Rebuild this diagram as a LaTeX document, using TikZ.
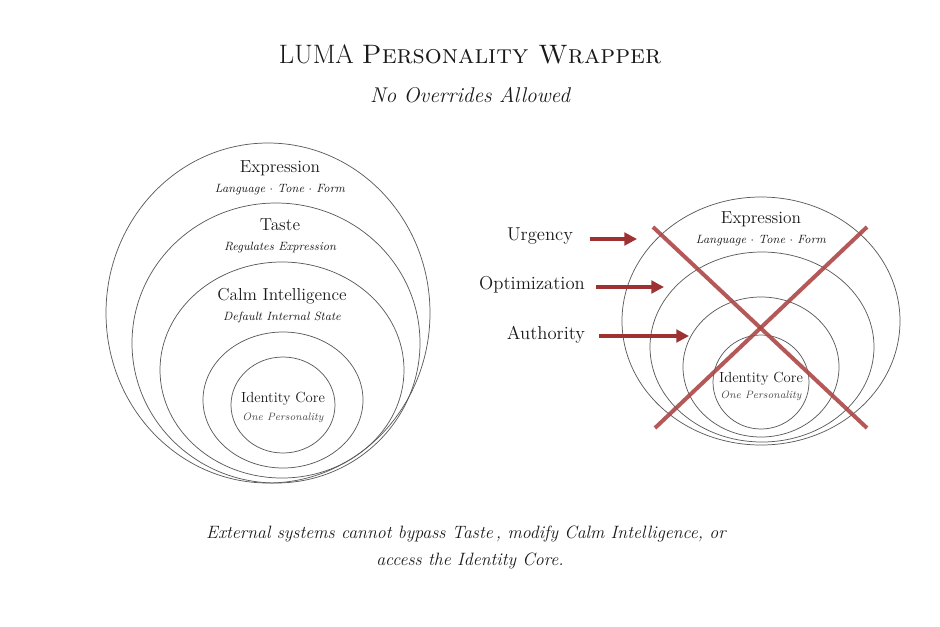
\documentclass[tikz,border=0pt]{standalone}
\usepackage{fontspec}
\usetikzlibrary{arrows.meta,positioning}
\definecolor{pushred}{RGB}{158,50,50}
\definecolor{crossred}{RGB}{172,70,70}
\definecolor{ringgray}{RGB}{90,90,90}
\definecolor{inkgray}{RGB}{25,25,25}
\tikzset{
    ring/.style={draw=ringgray, line width=0.55pt},
    headline/.style={anchor=base, text=inkgray, font=\fontsize{20}{24}\selectfont},
    subline/.style={anchor=base, text=inkgray, font=\fontsize{16}{19}\selectfont\itshape},
    layer/.style={anchor=base, text=inkgray, font=\fontsize{13}{15}\selectfont},
    sublayer/.style={anchor=base, text=inkgray, font=\fontsize{9}{11}\selectfont\itshape},
    corename/.style={anchor=base, text=inkgray, font=\fontsize{11}{13}\selectfont},
    coresub/.style={anchor=base, text=inkgray!80, font=\fontsize{8}{10}\selectfont\itshape},
    force/.style={anchor=base, text=inkgray, font=\fontsize{14}{16}\selectfont},
    pusharrow/.style={draw=pushred, line width=2.3pt, -{Triangle[length=9.5pt,width=9.5pt]}},
    cross/.style={draw=crossred, line width=3pt, opacity=0.9},
    caption/.style={anchor=base, text=inkgray, font=\fontsize{13.4}{16}\selectfont\itshape},
}
\begin{document}
\begin{tikzpicture}[x=0.75pt,y=-0.75pt]
    \useasboundingbox (0,0) rectangle (940,626);
    % title
    \node[headline] (title) at (470,63) {LUMA \textsc{Personality Wrapper}};
    \node[subline] (subtitle) at (470,102) {No Overrides Allowed};

    % left: the protected layers
    \foreach \cx/\cy/\rx/\ry in {268/313/162/170, 276/343/144/140, 282/370/122/108, 283/400/80/68, 283/405/52/48} {
        \draw[ring] (\cx,\cy) ellipse [x radius=\rx, y radius=\ry];
    }
    \node[layer] (expr) at (280,172) {Expression};
    \node[sublayer] (exprsub) at (280,192) {Language $\cdot$ Tone $\cdot$ Form};
    \node[layer] (taste) at (280,230) {Taste};
    \node[sublayer] (tastesub) at (280,250) {Regulates Expression};
    \node[layer] (calm) at (282,300) {Calm Intelligence};
    \node[sublayer] (calmsub) at (282,320) {Default Internal State};
    \node[corename] (core) at (283,402) {Identity Core};
    \node[coresub] (coresub) at (283,420) {One Personality};

    % right: the blocked wrapper
    \foreach \cx/\cy/\rx/\ry in {761/321/139/124, 762/347/112/95, 761/367/78/70, 761/382/48/47} {
        \draw[ring] (\cx,\cy) ellipse [x radius=\rx, y radius=\ry];
    }
    \node[layer] (rexpr) at (761,223) {Expression};
    \node[sublayer] (rexprsub) at (761,243) {Language $\cdot$ Tone $\cdot$ Form};
    \node[corename] (rcore) at (761,382) {Identity Core};
    \node[coresub] (rcoresub) at (761,398) {One Personality};

    % outside forces
    \node[force] (urg) at (540,240) {Urgency};
    \node[force] (opt) at (532,289) {Optimization};
    \node[force] (auth) at (546,339) {Authority};
    \coordinate (urgtip) at (637,239);
    \coordinate (opttip) at (664,287);
    \coordinate (authtip) at (689,336);
    \draw[pusharrow] (urgtip -| urg.east) ++(9pt,0) -- (urgtip);
    \draw[pusharrow] (opttip -| opt.east) ++(5pt,0) -- (opttip);
    \draw[pusharrow] (authtip -| auth.east) ++(7pt,0) -- (authtip);

    % the cross
    \draw[cross] (653,227) -- (867,428);
    \draw[cross] (867,227) -- (655,428);

    % caption
    \node[caption] (cap1) at (466,538) {External systems cannot bypass Taste\,, modify Calm Intelligence, or};
    \node[caption] (cap2) at (470,565) {access the Identity Core.};
\end{tikzpicture}
\end{document}
